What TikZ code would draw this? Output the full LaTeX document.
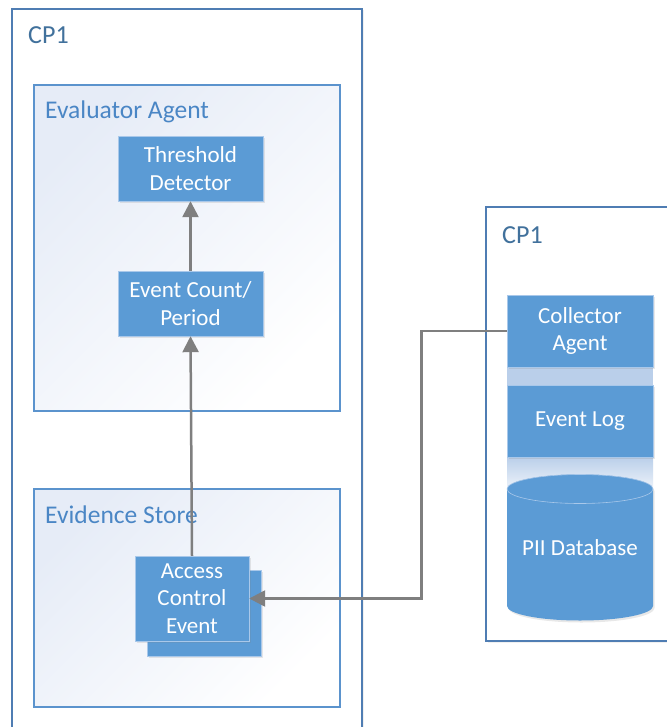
\documentclass[tikz,border=0pt]{standalone}
\usepackage{fontspec}
\setmainfont{Carlito}
\usetikzlibrary{arrows.meta,shadows}
\definecolor{boxblue}{HTML}{5B9BD5}
\definecolor{boxedge}{HTML}{A9C8EA}
\definecolor{outeredge}{HTML}{4F7DB3}
\definecolor{inneredge}{HTML}{5B93CD}
\definecolor{outerlabel}{HTML}{41719C}
\definecolor{innerlabel}{HTML}{4A86C5}
\definecolor{wirecol}{HTML}{7F7F7F}
\definecolor{bandblue}{HTML}{BACFEA}
\definecolor{paneltint}{HTML}{E6ECF7}
\tikzset{
  outerbox/.style={draw=outeredge, line width=1.5pt, fill=white,
    drop shadow={opacity=0.12, shadow xshift=1.5pt, shadow yshift=-1.5pt}},
  innerbox/.style={draw=inneredge, line width=1.8pt,
    left color=paneltint, right color=white, shading angle=45},
  blockbox/.style={draw=boxedge, line width=0.6pt, fill=boxblue,
    drop shadow={opacity=0.18, shadow xshift=1.5pt, shadow yshift=-2pt}},
  blocktext/.style={text=white, align=center, inner sep=0pt,
    font=\fontsize{23}{27.5}\selectfont},
  outerlabel/.style={anchor=base west, inner sep=0pt, text=outerlabel,
    font=\fontsize{26}{30}\selectfont},
  innerlabel/.style={anchor=base west, inner sep=0pt, text=innerlabel,
    font=\fontsize{25.5}{30}\selectfont},
  wire/.style={draw=wirecol, line width=2.5pt},
  tip/.style={-{Triangle[length=16pt,width=16pt]}},
}
\begin{document}
\begin{tikzpicture}[x=1pt,y=-1pt]
\useasboundingbox (0,0) rectangle (666,727);

% left processing host
\path[outerbox] (12,9) rectangle (362,740);
\node[outerlabel] (cpa) at (28,44) {CP1};

% evaluator agent panel
\path[innerbox] (34,85) rectangle (340,411);
\node[innerlabel] (evl) at (45,119) {Evaluator Agent};
\path[blockbox] (118,136) rectangle (263,201);
\node[blocktext, minimum width=145pt, minimum height=65pt] (thr) at (190.5,168.5) {Threshold\\Detector};
\path[blockbox] (118,271) rectangle (263,336);
\node[blocktext, minimum width=145pt, minimum height=65pt] (cnt) at (190.5,303.5) {Event Count/\\Period};

% evidence store panel
\path[innerbox] (34,489) rectangle (340,707);
\node[innerlabel] (evs) at (45,523) {Evidence Store};
\path[blockbox] (147,570) rectangle (261,656);
\path[blockbox] (135,556) rectangle (249,641);
\node[blocktext, minimum width=114pt, minimum height=85pt] (ace) at (192,598.5) {Access\\Control\\Event};

% right processing host
\path[outerbox] (486,207) rectangle (680,641);
\node[outerlabel] (cpb) at (502,243) {CP1};

% collector stack
\fill[bandblue] (507,367) rectangle (653,385);
\shade[top color=bandblue, bottom color=white] (507,457) rectangle (653,500);
\path[blockbox] (507,295) rectangle (653,367);
\node[blocktext, minimum width=146pt, minimum height=72pt] (col) at (580,331) {Collector\\Agent};
\path[blockbox] (507,385) rectangle (653,457);
\node[blocktext, minimum width=146pt, minimum height=72pt] (log) at (580,421) {Event Log};

% PII database cylinder
\path[fill=boxblue, drop shadow={opacity=0.18, shadow xshift=1.5pt, shadow yshift=-2pt}]
  (507,489) -- (507,606) arc[start angle=180, end angle=360, x radius=73, y radius=-14.5]
  -- (653,489) arc[start angle=0, end angle=180, x radius=73, y radius=-14.5] -- cycle;
\draw[boxedge, line width=0.6pt, fill=boxblue] (580,489) ellipse[x radius=73, y radius=14.5];
\node[blocktext] (pii) at (580,548) {PII Database};

% connectors
\draw[wire, tip] (cnt.north) -- (thr.south);
\draw[wire, tip] (ace.north) -- (cnt.south);
\coordinate (bend) at (421.5,331);
\draw[wire, tip] (col.west) -- (bend) |- (ace.east);
\end{tikzpicture}
\end{document}
